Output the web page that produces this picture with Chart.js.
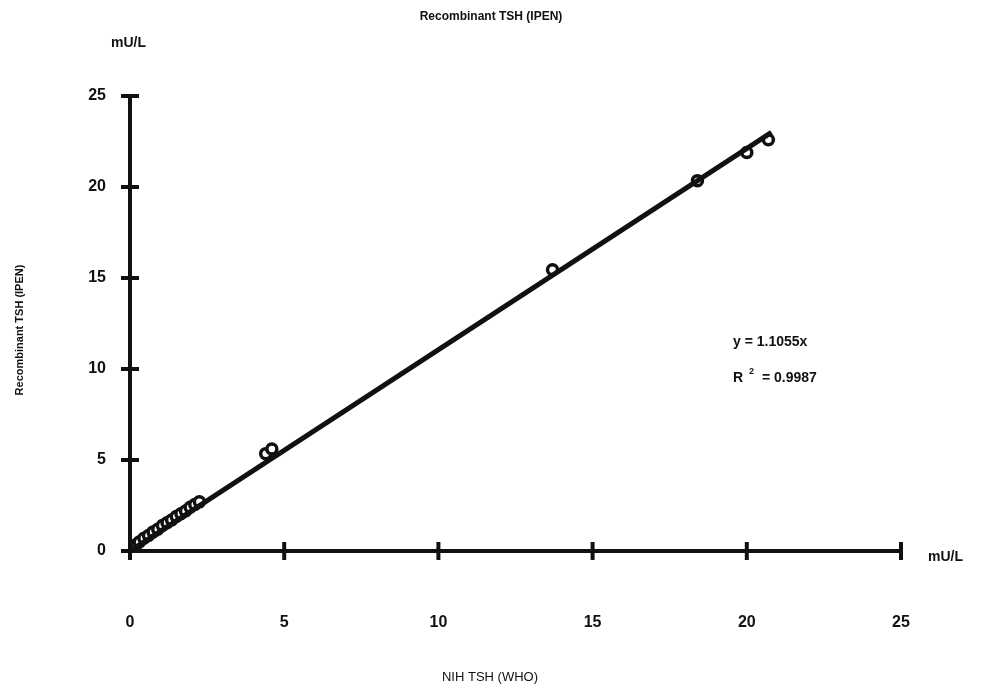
<!DOCTYPE html>
<html>
<head>
<meta charset="utf-8">
<script src="https://cdn.jsdelivr.net/npm/chart.js@4.4.0/dist/chart.umd.min.js"></script>
<style>
  html, body { margin: 0; padding: 0; background: #fff; }
  #wrap { width: 981px; height: 694px; }
</style>
</head>
<body>
<div id="wrap"><canvas id="tsh-chart" width="981" height="694"></canvas></div>
<script>
// NIH TSH (WHO) vs Recombinant TSH (IPEN)
const nihX  = [0.1, 0.2, 0.3, 0.45, 0.6, 0.75, 0.9, 1.05, 1.2, 1.35, 1.5, 1.65, 1.8, 1.95, 2.1, 2.25, 4.4, 4.6, 13.7, 18.4, 20.0, 20.7];
const ipenY = [0.2, 0.35, 0.5, 0.7, 0.85, 1.05, 1.2, 1.4, 1.55, 1.7, 1.9, 2.05, 2.2, 2.4, 2.55, 2.7, 5.35, 5.6, 15.45, 20.35, 21.9, 22.6];
const fitX  = [0, 20.8];
const fitY  = [0, 23.0];
const tickValues = [0, 5, 10, 15, 20, 25];

const FONT = "'Liberation Sans', Arial, sans-serif";
const INK  = "#111111";

const points = nihX.map((x, i) => ({ x, y: ipenY[i] }));
const trend  = fitX.map((x, i) => ({ x, y: fitY[i] }));

// axis lines + ticks crossing the axis, like the original plot
const axesPlugin = {
  id: "axesCross",
  beforeDatasetsDraw(chart) {
    const { ctx, scales: { x, y } } = chart;
    const x0 = x.getPixelForValue(0), y0 = y.getPixelForValue(0);
    ctx.save();
    ctx.strokeStyle = INK;
    ctx.lineWidth = 4;
    ctx.beginPath();
    ctx.moveTo(x0, y.getPixelForValue(25) - 2);
    ctx.lineTo(x0, y0 + 8);
    ctx.moveTo(x0 - 8, y0);
    ctx.lineTo(x.getPixelForValue(25), y0);
    ctx.stroke();
    tickValues.forEach(v => {
      const py = y.getPixelForValue(v);
      ctx.beginPath();
      ctx.moveTo(x0 - 9, py);
      ctx.lineTo(x0 + 9, py);
      ctx.stroke();
      const px = x.getPixelForValue(v);
      ctx.beginPath();
      ctx.moveTo(px, y0 - 9);
      ctx.lineTo(px, y0 + 9);
      ctx.stroke();
    });
    ctx.restore();
  },
  afterDraw(chart) {
    const { ctx } = chart;
    ctx.save();
    ctx.fillStyle = INK;
    ctx.textBaseline = "middle";

    ctx.font = `bold 12px ${FONT}`;
    ctx.textAlign = "center";
    ctx.fillText("Recombinant TSH (IPEN)", 491, 17);

    ctx.font = `bold 14px ${FONT}`;
    ctx.textAlign = "left";
    ctx.fillText("mU/L", 111, 43);
    ctx.fillText("mU/L", 928, 557);

    ctx.textAlign = "center";
    ctx.font = `13px ${FONT}`;
    ctx.fillText("NIH TSH (WHO)", 490, 677);

    ctx.save();
    ctx.translate(20, 330);
    ctx.rotate(-Math.PI / 2);
    ctx.font = `bold 11px ${FONT}`;
    ctx.fillText("Recombinant TSH (IPEN)", 0, 0);
    ctx.restore();

    ctx.textAlign = "left";
    ctx.font = `bold 14px ${FONT}`;
    ctx.fillText("y = 1.1055x", 733, 342);
    ctx.fillText("R", 733, 378);
    ctx.font = `bold 9px ${FONT}`;
    ctx.fillText("2", 749, 372);
    ctx.font = `bold 14px ${FONT}`;
    ctx.fillText("= 0.9987", 762, 378);
    ctx.restore();
  },
};

new Chart(document.getElementById("tsh-chart"), {
  type: "scatter",
  data: {
    datasets: [
      {
        label: "fit",
        type: "line",
        data: trend,
        borderColor: INK,
        borderWidth: 5,
        pointRadius: 0,
        fill: false,
      },
      {
        label: "samples",
        data: points,
        pointStyle: "circle",
        pointRadius: 5,
        pointBorderWidth: 3.5,
        pointBorderColor: INK,
        pointBackgroundColor: "#ffffff",
      },
    ],
  },
  options: {
    responsive: false,
    animation: false,
    events: [],
    layout: { padding: { top: 96, right: 80, left: 0, bottom: 0 } },
    plugins: { legend: { display: false }, tooltip: { enabled: false } },
    scales: {
      x: {
        type: "linear",
        min: 0, max: 25,
        afterBuildTicks: s => { s.ticks = tickValues.map(v => ({ value: v })); },
        afterFit: s => { s.height = 143; },
        grid: { display: false },
        border: { display: false },
        ticks: { color: INK, font: { family: FONT, size: 16, weight: "bold" }, padding: 54 },
      },
      y: {
        type: "linear",
        min: 0, max: 25,
        afterBuildTicks: s => { s.ticks = tickValues.map(v => ({ value: v })); },
        afterFit: s => { s.width = 130; },
        grid: { display: false },
        border: { display: false },
        ticks: { color: INK, font: { family: FONT, size: 16, weight: "bold" }, padding: 16 },
      },
    },
  },
  plugins: [axesPlugin],
});
</script>
</body>
</html>
